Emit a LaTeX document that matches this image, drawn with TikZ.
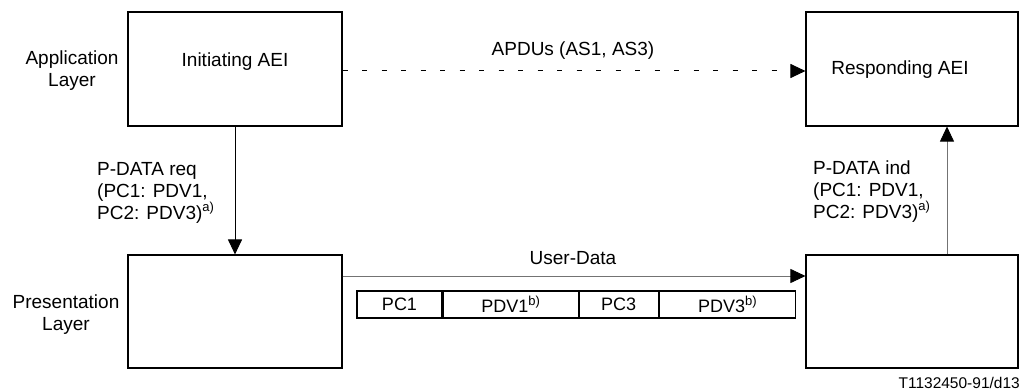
\documentclass[tikz,border=0pt]{standalone}
\usepackage{fontspec}
\setmainfont{Liberation Sans}
\usetikzlibrary{arrows.meta}
\newcommand{\supnote}[1]{\raisebox{0.42em}{\fontsize{13}{13}\selectfont #1}}
\begin{document}
\begin{tikzpicture}[x=1pt,y=-1pt,
  box/.style={draw, line width=1.1pt, minimum width=214pt, minimum height=114pt, inner sep=0pt},
  lbl/.style={font=\fontsize{19}{22}\selectfont, inner sep=0pt},
  cell/.style={draw, line width=1.1pt, minimum height=27pt, inner sep=0pt, font=\fontsize{18}{21}\selectfont},
  arr/.style={line width=1pt, -{Triangle[length=15pt,width=14pt]}},
  arrg/.style={line width=0.8pt, draw=black!55, -{Triangle[length=15pt,width=14pt,color=black,fill=black]}},
  dasharr/.style={line width=1pt, dash pattern=on 5pt off 14.5pt, -{Triangle[length=15pt,width=14pt,sep=0pt]}},
  note/.style={font=\fontsize{15.5}{17}\selectfont, inner sep=0pt}
]
\useasboundingbox (0,0) rectangle (1023,390);

% boxes
\node[box] (init) at (235,69) {};
\node[box, minimum width=212pt] (resp) at (912,69) {};
\node[box, minimum height=113pt] (presL) at (235,311.5) {};
\node[box, minimum width=212pt, minimum height=113pt] (presR) at (912,311.5) {};

% box texts
\node[lbl] (initT) at (235,62) {Initiating AEI};
\node[lbl] (respT) at (900,70) {Responding AEI};

% layer labels
\node[lbl, align=center] (appLay) at (72,71) {Application\\Layer};
\node[lbl, align=center] (presLay) at (66,315) {Presentation\\Layer};

% PDU cells
\node[cell, minimum width=85pt] (c1) at (399.5,304.5) {PC1};
\node[cell, minimum width=135pt, anchor=west] (c2) at (c1.east) {PDV1\supnote{b)}};
\node[cell, minimum width=79pt, anchor=west] (c3) at (c2.east) {PC3};
\node[cell, minimum width=136pt, anchor=west] (c4) at (c3.east) {PDV3\supnote{b)}};

% connectors
\draw[dasharr] ([yshift=-2pt]init.east) -- ([yshift=-2pt]resp.west);
\draw[arr] (init.south) -- (presL.north);
\draw[arrg] ([xshift=35pt]presR.north) -- ([xshift=35pt]resp.south);
\draw[arrg] ([yshift=35.5pt]presL.east) -- ([yshift=35.5pt]presR.west);

% connector labels
\node[lbl] (apdu) at (573,51) {APDUs (AS1, AS3)};
\node[lbl] (ud) at (573,258) {User-Data};
\node[lbl, align=left, anchor=north west] (req) at (97,162.5) {P-DATA req\\(PC1: PDV1,\\PC2: PDV3)\supnote{a)}};
\node[lbl, align=left, anchor=north west] (ind) at (813,160.5) {P-DATA ind\\(PC1: PDV1,\\PC2: PDV3)\supnote{a)}};

\node[note, anchor=east] (fig) at (1020,383) {T1132450-91/d13};
\end{tikzpicture}
\end{document}
